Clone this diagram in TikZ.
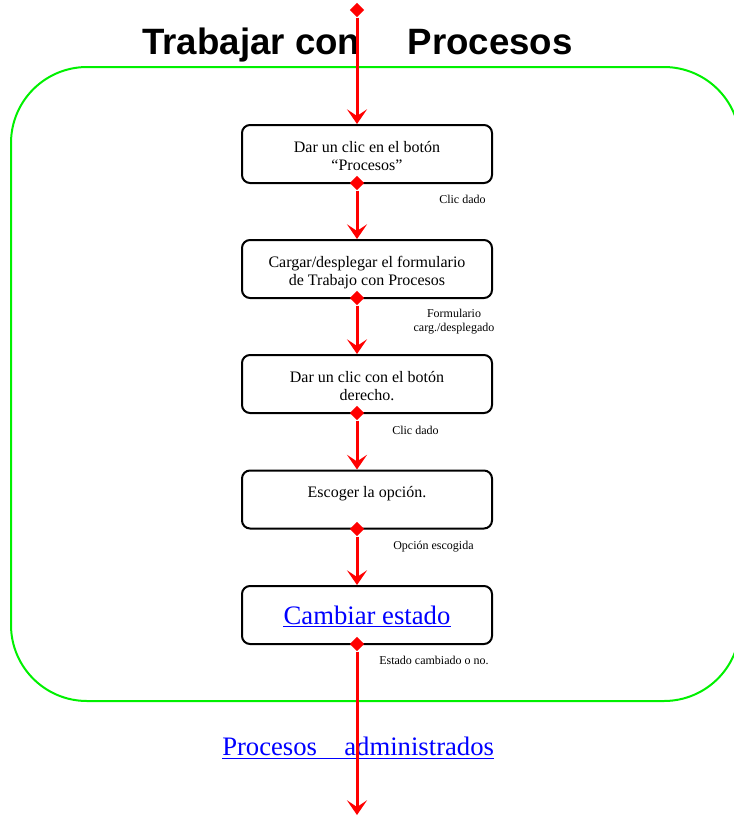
\documentclass[tikz,border=0pt]{standalone}
\usepackage{fontspec}
\setmainfont{Liberation Serif}
\newfontfamily\titlefont{Liberation Sans}
\usetikzlibrary{shapes.geometric,arrows.meta}
\definecolor{flowred}{RGB}{255,0,0}
\definecolor{framegreen}{RGB}{0,240,0}
\definecolor{linkblue}{RGB}{0,0,255}
% first-line height and last-line depth, so every step box sets its text alike
\newcommand\firstln{\rule{0pt}{13.5pt}}
\newcommand\lastln{\rule[-3pt]{0pt}{3pt}}
\begin{document}
\begin{tikzpicture}[x=0.75pt,y=-0.75pt,
  stepbox/.style={draw=black, line width=1.5pt, rounded corners=6pt,
    minimum width=187.5pt, minimum height=43.5pt, inner sep=0pt,
    align=center, font=\fontsize{12}{13.5}\selectfont},
  note/.style={inner sep=0pt, font=\fontsize{9}{10.5}\selectfont},
  linktext/.style={inner sep=0pt, text=linkblue, font=\fontsize{20}{23}\selectfont},
  dia/.style={diamond, fill=flowred, inner sep=0pt, minimum size=11pt},
  flow/.style={draw=flowred, line width=2.25pt,
    -{Stealth[length=11pt,width=15pt,inset=5pt]}},
  frame/.style={draw=framegreen, line width=1.5pt, rounded corners=57pt}]
\useasboundingbox (0,0) rectangle (734,818);
\clip (0,0) rectangle (734,818);

% green frame around the procedure
\draw[frame] (11,67) rectangle (740,701);

% title
\node[inner sep=0pt, anchor=base west, font=\titlefont\bfseries\fontsize{27.5}{32}\selectfont]
  (title) at (142,54) {Trabajar con\hspace{35.5pt}Procesos};

% steps
\node[stepbox] (b1) at (367,154) {\firstln Dar un clic en el botón\\“Procesos”\lastln};
\node[stepbox] (b2) at (367,269) {\firstln Cargar/desplegar el formulario\\de Trabajo con Procesos\lastln};
\node[stepbox] (b3) at (367,384) {\firstln Dar un clic con el botón\\derecho.\lastln};
\node[stepbox] (b4) at (367,499.5) {\firstln Escoger la opción.\\\mbox{}\lastln};
\node[stepbox] (b5) at (367,615) {};
\node[linktext, anchor=base] (l5) at (367,624) {Cambiar estado};
\draw[linkblue, line width=1.2pt] ([yshift=-2pt]l5.base west) -- ([yshift=-2pt]l5.base east);

% outgoing result
\node[linktext, anchor=base west] (res) at (222,755) {Procesos\hspace{20.5pt}administrados};
\draw[linkblue, line width=1.2pt] ([yshift=-2.5pt]res.base west) -- ([yshift=-2.5pt]res.base east);

% condition labels
\node[note, anchor=base west] (c1) at (439,203) {Clic dado};
\node[note, align=center] (c2) at (454,322) {Formulario\\carg./desplegado};
\node[note, anchor=base west] (c3) at (392,434) {Clic dado};
\node[note, anchor=base west] (c4) at (393,549) {Opción escogida};
\node[note, anchor=base west] (c5) at (379,664) {Estado cambiado o no.};

% flow connectors
\node[dia] (d0) at (357,10) {};
\node[dia] (d1) at (357,183) {};
\node[dia] (d2) at (357,298) {};
\node[dia] (d3) at (357,413) {};
\node[dia] (d4) at (357,529) {};
\node[dia] (d5) at (357,644) {};
\coordinate (tail) at (357,815);
\draw[flow] (d0) -- (d0 |- b1.north);
\draw[flow] (d1) -- (d1 |- b2.north);
\draw[flow] (d2) -- (d2 |- b3.north);
\draw[flow] (d3) -- (d3 |- b4.north);
\draw[flow] (d4) -- (d4 |- b5.north);
\draw[flow] (d5) -- (tail);
\end{tikzpicture}
\end{document}
